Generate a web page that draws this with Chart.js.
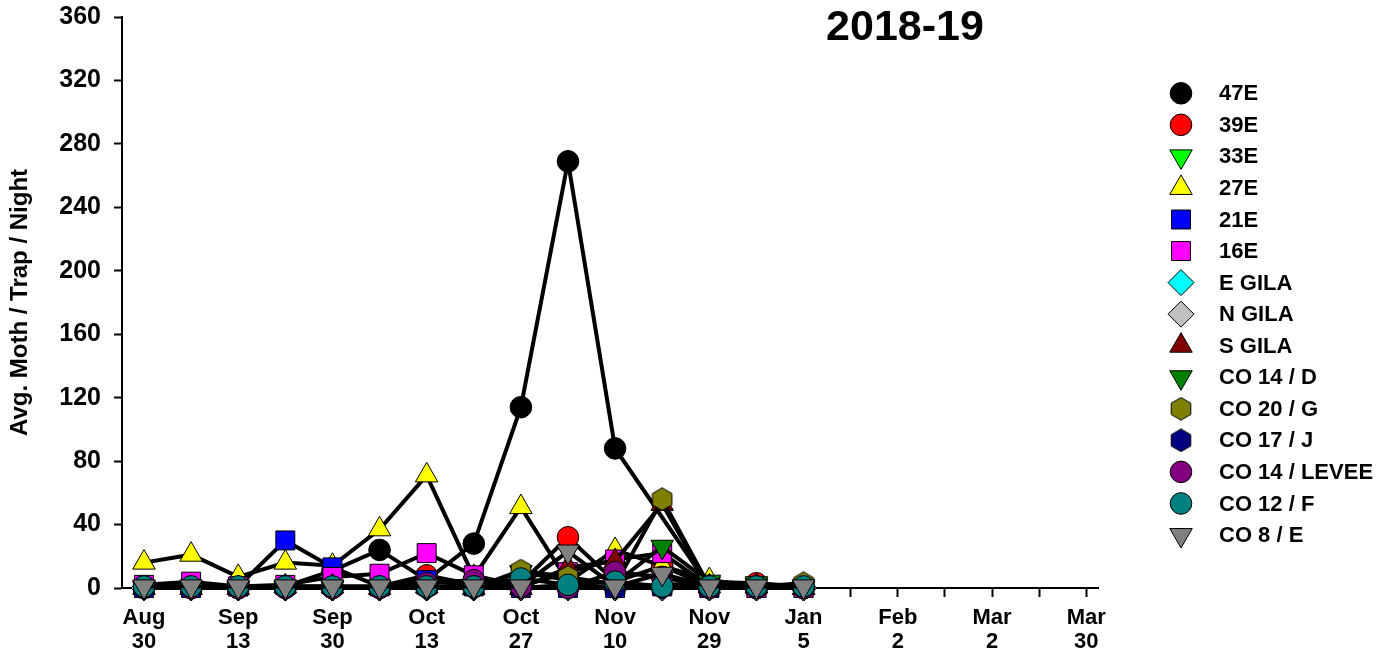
<!DOCTYPE html>
<html><head><meta charset="utf-8">
<script src="https://cdn.jsdelivr.net/npm/chart.js@4.4.1/dist/chart.umd.min.js"></script>
<style>html,body{margin:0;padding:0;background:#fff;} canvas{display:block;}</style>
</head><body>
<canvas id="c" width="1390" height="658"></canvas>
<script>
// ---- data ----
const tickLabels = [['Aug','30'],['Sep','13'],['Sep','30'],['Oct','13'],['Oct','27'],['Nov','10'],['Nov','29'],['Jan','5'],['Feb','2'],['Mar','2'],['Mar','30']];
const seriesNames = ['47E','39E','33E','27E','21E','16E','E GILA','N GILA','S GILA','CO 14 / D','CO 20 / G','CO 17 / J','CO 14 / LEVEE','CO 12 / F','CO 8 / E'];
const s47E   = [1, 1, 0, 1, 11, 24, 5, 28, 114, 269, 88, null, 1, 0, 0];
const s39E   = [0, 0, 0, 1, 0, 1, 8, 2, 3, 32, 4, 14, 1, 3, 0];
const s33E   = [0, 0, 0, 0, 0, 0, 0, 0, 0, 0, 0, 2, 3, 2, 0];
const s27E   = [16, 21, 7, 16, 14, 37, 71, 7, 51, 4, 24, 14, 5, 1, 0];
const s21E   = [0, 0, 1, 30, 13, 1, 5, 1, 0, 0, 0, 1, 0, 0, 0];
const s16E   = [2, 4, 1, 2, 7, 9, 22, 8, 1, 10, 18, 22, 1, 0, 0];
const sEGila = [0, 0, 0, 0, 0, 0, 0, 0, 0, 2, 0, 0, 0, 0, 0];
const sNGila = [0, 0, 0, 0, 0, 0, 0, 0, 0, 0, 0, 0, 0, 0, 0];
const sSGila = [0, 0, 0, 1, 1, 0, 1, 0, 0, 13, 17, 53, 1, 1, 0];
const sCO14D = [0, 0, 0, 0, 0, 0, 0, 0, 10, 5, 3, 26, 4, 3, 1];
const sCO20G = [0, 0, 0, 0, 0, 0, 0, 0, 11, 7, 2, 56, 1, 1, 3];
const sCO17J = [0, 0, 0, 0, 0, 0, 0, 0, 0, 0, 0, 0, 0, 0, 0];
const sCO14L = [1, 0, 0, 0, 0, 0, 3, 5, 1, 0, 10, 7, 0, 0, 0];
const sCO12F = [1, 1, 1, 1, 1, 1, 1, 1, 6, 2, 4, 1, 1, 1, 1];
const sCO8E  = [1, 1, 1, 1, 1, 1, 1, 1, 1, 23, 1, 9, 1, 1, 1];
const seriesValues = [s47E, s39E, s33E, s27E, s21E, s16E, sEGila, sNGila, sSGila, sCO14D, sCO20G, sCO17J, sCO14L, sCO12F, sCO8E];

// ---- styles ----
const seriesColors = ['#000000','#FF0000','#00FF00','#FFFF00','#0000FF','#FF00FF','#00FFFF','#C0C0C0','#800000','#008000','#808000','#000080','#800080','#008080','#808080'];
const seriesShapes = ['circle','circle','down','up','square','square','diamond','diamond','up','down','hex','hex','circle','circle','down'];
const FONT = "'Liberation Sans', Arial, Helvetica, sans-serif";

function hexCanvas(fill) {
  const R = 11.3, w = 22, h = 24;
  const c = document.createElement('canvas');
  c.width = w; c.height = h;
  const g = c.getContext('2d');
  g.beginPath();
  for (let k = 0; k < 6; k++) {
    const a = (-90 + 60 * k) * Math.PI / 180;
    const px = w / 2 + R * Math.cos(a), py = h / 2 + R * Math.sin(a);
    if (k === 0) g.moveTo(px, py); else g.lineTo(px, py);
  }
  g.closePath();
  g.fillStyle = fill; g.fill();
  g.lineWidth = 1; g.strokeStyle = '#000'; g.stroke();
  return c;
}
function shapeOpts(shape, color) {
  switch (shape) {
    case 'circle': return {pointStyle: 'circle', radius: 10.8, rotation: 0};
    case 'up': return {pointStyle: 'triangle', radius: 13, rotation: 0};
    case 'down': return {pointStyle: 'triangle', radius: 13, rotation: 180};
    case 'square': return {pointStyle: 'rect', radius: 13.4, rotation: 0};
    case 'diamond': return {pointStyle: 'rectRot', radius: 13, rotation: 0};
    case 'hex': return {pointStyle: hexCanvas(color), radius: 11, rotation: 0};
  }
}

const datasets = seriesNames.map((name, i) => {
  const so = shapeOpts(seriesShapes[i], seriesColors[i]);
  return {
    label: name,
    data: seriesValues[i].map((v, j) => ({x: j, y: v})),
    borderColor: '#000',
    borderWidth: 4,
    pointStyle: so.pointStyle,
    pointRadius: so.radius,
    pointRotation: so.rotation,
    pointBackgroundColor: seriesColors[i],
    pointBorderColor: '#000',
    pointBorderWidth: 1,
    tension: 0,
    spanGaps: true,
    clip: false,
    order: -i
  };
});

const legendPlugin = {
  id: 'customLegend',
  afterDraw(chart) {
    const ctx = chart.ctx;
    ctx.save();
    chart.data.datasets.forEach((ds, i) => {
      const y = 93.3 + i * 31.55;
      ctx.fillStyle = ds.pointBackgroundColor;
      ctx.strokeStyle = '#000';
      ctx.lineWidth = 1;
      Chart.helpers.drawPoint(ctx, {pointStyle: ds.pointStyle, rotation: ds.pointRotation, radius: ds.pointRadius, borderWidth: 1}, 1181, y);
      ctx.fillStyle = '#000';
      ctx.font = 'bold 22px ' + FONT;
      ctx.textAlign = 'left';
      ctx.textBaseline = 'middle';
      ctx.fillText(ds.label, 1219, y + 1);
    });
    ctx.font = 'bold 43px ' + FONT;
    ctx.textAlign = 'center';
    ctx.textBaseline = 'middle';
    ctx.fillStyle = '#000';
    ctx.fillText('2018-19', 905, 28);
    ctx.restore();
  }
};

new Chart(document.getElementById('c'), {
  type: 'line',
  data: {datasets},
  plugins: [legendPlugin],
  options: {
    responsive: false,
    animation: false,
    events: [],
    devicePixelRatio: 1,
    layout: {padding: {top: 17, right: 292, left: 0, bottom: 0}},
    plugins: {legend: {display: false}, tooltip: {enabled: false}, title: {display: false}},
    scales: {
      x: {
        type: 'linear',
        min: -0.467,
        max: 20.25,
        afterFit(s) { s.height = 70; s.paddingLeft = 0; s.paddingRight = 0; },
        afterBuildTicks(s) { s.ticks = Array.from({length: 21}, (_, k) => ({value: k})); },
        ticks: {
          autoSkip: false, maxRotation: 0, minRotation: 0, padding: 9,
          color: '#000',
          font: {family: FONT, size: 22, weight: 'bold', lineHeight: 1.1},
          callback(v) { return (v % 2 === 0) ? tickLabels[v / 2] : ''; }
        },
        grid: {drawOnChartArea: false, drawTicks: true, tickLength: 9, tickColor: '#000', tickWidth: 2},
        border: {display: true, color: '#000', width: 2}
      },
      y: {
        min: 0, max: 360,
        afterFit(s) { s.width = 122; s.paddingTop = 0; s.paddingBottom = 0; },
        ticks: {
          stepSize: 40, padding: 13, color: '#000',
          font: {family: FONT, size: 25, weight: 'bold'}
        },
        grid: {drawOnChartArea: false, drawTicks: true, tickLength: 8, tickColor: '#000', tickWidth: 2},
        border: {display: true, color: '#000', width: 2},
        title: {display: true, text: 'Avg. Moth / Trap / Night', color: '#000', font: {family: FONT, size: 24, weight: 'bold'}, padding: {top: 6, bottom: 0}}
      }
    }
  }
});
</script>
</body></html>
